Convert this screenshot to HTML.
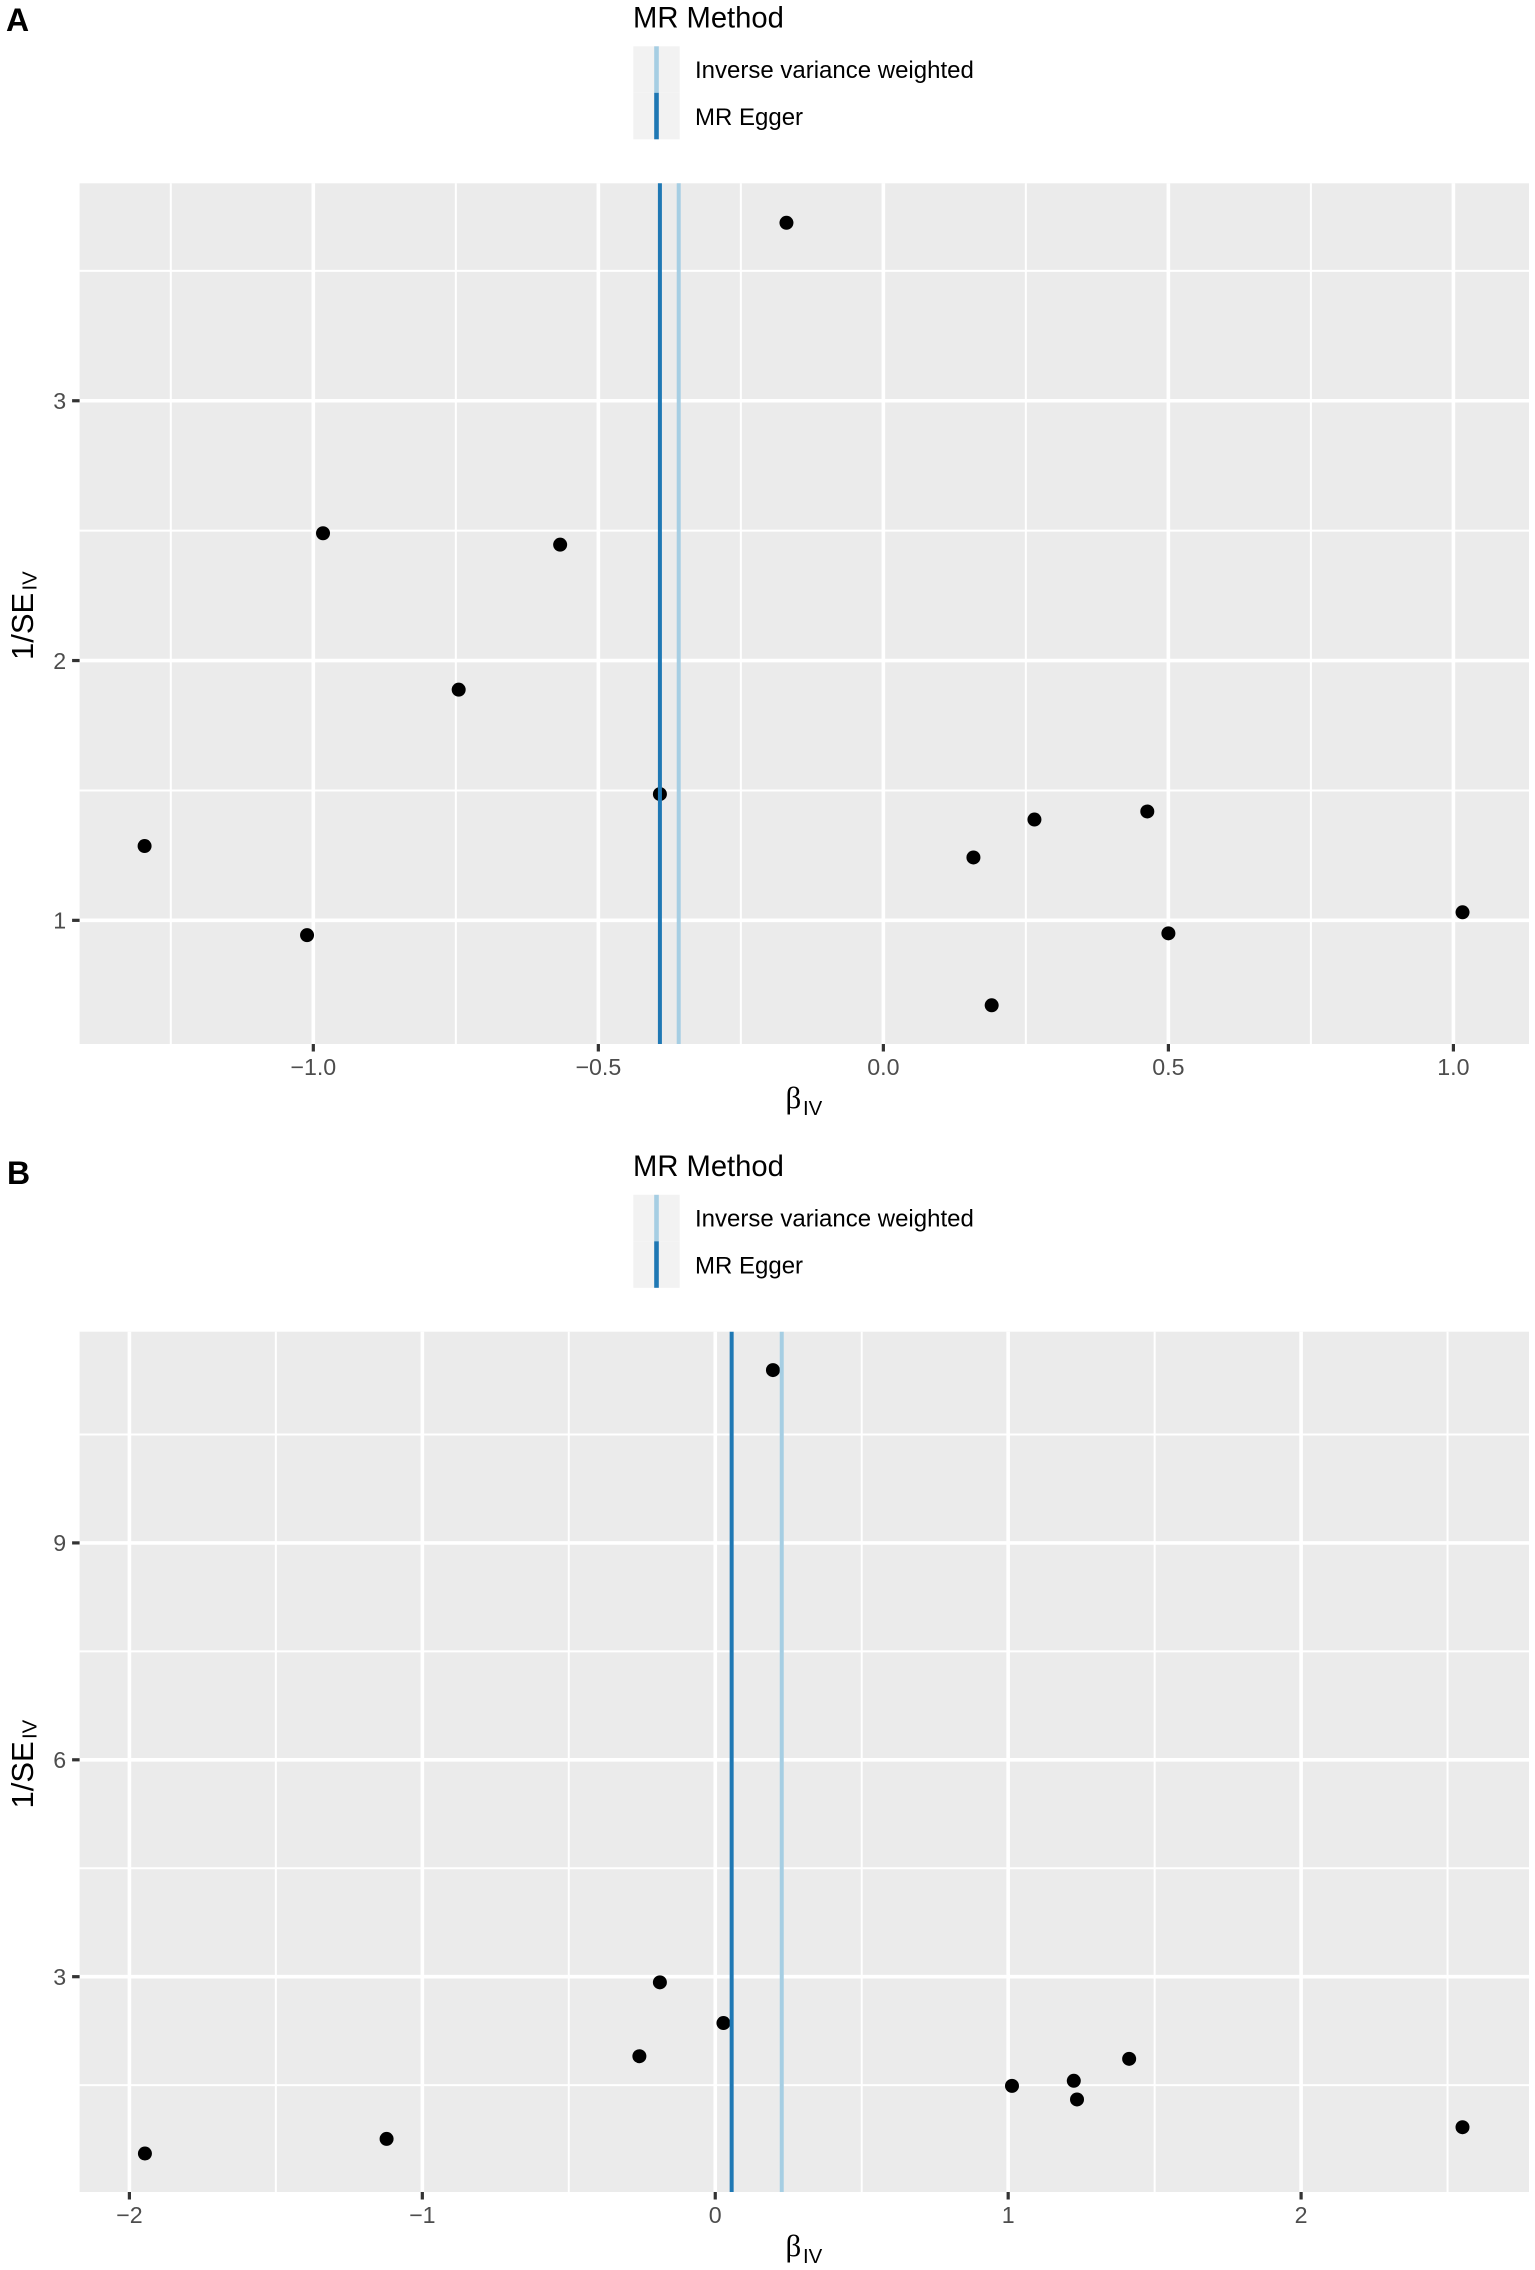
<!DOCTYPE html>
<html lang="en">
<head>
<meta charset="utf-8">
<title>MR funnel plots</title>
<style>
  html, body { margin: 0; padding: 0; background: #fff; }
  svg { display: block; font-family: "Liberation Sans", sans-serif; }
</style>
</head>
<body>
<svg id="figure" xmlns="http://www.w3.org/2000/svg" width="1535" height="2270" viewBox="0 0 1535 2270">
  <rect x="0" y="0" width="1535" height="2270" fill="#ffffff"/>

  <text x="6" y="31" font-size="32" font-weight="700" fill="#000">A</text>
  <g>
    <text x="633" y="27.5" font-size="29.2" fill="#000">MR Method</text>
    <rect x="633.3" y="46.3" width="46.4" height="46.5" fill="#f2f2f2"/>
    <rect x="633.3" y="92.8" width="46.4" height="46.5" fill="#f2f2f2"/>
    <rect x="654.2" y="46.3" width="4.6" height="46.5" fill="#a6cee3"/>
    <rect x="654.2" y="92.8" width="4.6" height="46.5" fill="#1f78b4"/>
    <text x="695" y="78" font-size="24" fill="#000">Inverse variance weighted</text>
    <text x="695" y="125" font-size="24" fill="#000">MR Egger</text>
  </g>

  <text x="7" y="1184" font-size="32" font-weight="700" fill="#000">B</text>
  <g transform="translate(0,1148.5)">
    <text x="633" y="27.5" font-size="29.2" fill="#000">MR Method</text>
    <rect x="633.3" y="46.3" width="46.4" height="46.5" fill="#f2f2f2"/>
    <rect x="633.3" y="92.8" width="46.4" height="46.5" fill="#f2f2f2"/>
    <rect x="654.2" y="46.3" width="4.6" height="46.5" fill="#a6cee3"/>
    <rect x="654.2" y="92.8" width="4.6" height="46.5" fill="#1f78b4"/>
    <text x="695" y="78" font-size="24" fill="#000">Inverse variance weighted</text>
    <text x="695" y="125" font-size="24" fill="#000">MR Egger</text>
  </g>
</svg>

<script>
// ---- Panel A data ----
const aBeta = [-1.296, -1.011, -0.983, -0.745, -0.567, -0.392, -0.170, 0.158, 0.190, 0.265, 0.463, 0.500, 1.016];
const aInvSE = [1.286, 0.943, 2.490, 1.888, 2.446, 1.486, 3.685, 1.242, 0.673, 1.388, 1.419, 0.950, 1.031];
const aXTicks = [-1.0, -0.5, 0.0, 0.5, 1.0];
const aXTickLabels = ["\u22121.0", "\u22120.5", "0.0", "0.5", "1.0"];
const aXMinor = [-1.25, -0.75, -0.25, 0.25, 0.75];
const aYTicks = [1, 2, 3];
const aYTickLabels = ["1", "2", "3"];
const aYMinor = [1.5, 2.5, 3.5];
const aEgger = -0.392;
const aIVW = -0.359;
const aXDomain = [-1.410, 1.1326];
const aYDomain = [0.524, 3.837];

// ---- Panel B data ----
const bBeta = [-1.947, -1.122, -0.259, -0.189, 0.028, 0.197, 1.013, 1.224, 1.235, 1.413, 2.551];
const bInvSE = [0.554, 0.756, 1.900, 2.922, 2.359, 11.39, 1.490, 1.560, 1.302, 1.864, 0.918];
const bXTicks = [-2, -1, 0, 1, 2];
const bXTickLabels = ["\u22122", "\u22121", "0", "1", "2"];
const bXMinor = [-1.5, -0.5, 0.5, 1.5, 2.5];
const bYTicks = [3, 6, 9];
const bYTickLabels = ["3", "6", "9"];
const bYMinor = [1.5, 4.5, 7.5, 10.5];
const bEgger = 0.056;
const bIVW = 0.227;
const bXDomain = [-2.170, 2.778];
const bYDomain = [0.022, 11.921];

const svg = document.getElementById('figure');
const NS = 'http://www.w3.org/2000/svg';

function mk(parent, tag, attrs, text) {
  const el = document.createElementNS(NS, tag);
  for (const k in attrs) el.setAttribute(k, attrs[k]);
  if (text !== undefined) el.textContent = text;
  parent.appendChild(el);
  return el;
}

function drawPanel(o) {
  const left = 79.6, right = 1529, top = o.top, bottom = o.bottom;
  const sx = v => left + (v - o.xDomain[0]) / (o.xDomain[1] - o.xDomain[0]) * (right - left);
  const sy = v => bottom - (v - o.yDomain[0]) / (o.yDomain[1] - o.yDomain[0]) * (bottom - top);

  const g = mk(svg, 'g', {});
  
  

  const bg = mk(g, 'rect', { x: left, y: top, width: right - left, height: bottom - top, fill: '#ebebeb' });
  
  

  o.yMinor.forEach(v => {
    const l = mk(g, 'line', { x1: left, x2: right, y1: sy(v), y2: sy(v), stroke: '#fff', 'stroke-width': 2 });
    
    
  });
  o.xMinor.forEach(v => {
    const l = mk(g, 'line', { x1: sx(v), x2: sx(v), y1: top, y2: bottom, stroke: '#fff', 'stroke-width': 2 });
    
    
  });
  o.yTicks.forEach((v, i) => {
    const l = mk(g, 'line', { x1: left, x2: right, y1: sy(v), y2: sy(v), stroke: '#fff', 'stroke-width': 3.6 });
    
    
    const t = mk(g, 'line', { x1: left - 7.5, x2: left, y1: sy(v), y2: sy(v), stroke: '#333', 'stroke-width': 3.2 });
    
    
    const lab = mk(g, 'text', { x: left - 13.5, y: sy(v) + 8.3, 'text-anchor': 'end', 'font-size': 23.2, fill: '#4d4d4d' }, o.yTickLabels[i]);
    
    
  });
  o.xTicks.forEach((v, i) => {
    const l = mk(g, 'line', { x1: sx(v), x2: sx(v), y1: top, y2: bottom, stroke: '#fff', 'stroke-width': 3.6 });
    
    
    const t = mk(g, 'line', { x1: sx(v), x2: sx(v), y1: bottom, y2: bottom + 7.5, stroke: '#333', 'stroke-width': 3.2 });
    
    
    const lab = mk(g, 'text', { x: sx(v), y: bottom + 31, 'text-anchor': 'middle', 'font-size': 23.2, fill: '#4d4d4d' }, o.xTickLabels[i]);
    
    
  });

  o.beta.forEach((v, i) => {
    const p = mk(g, 'circle', { cx: sx(v), cy: sy(o.invSE[i]), r: 7, fill: '#000' });
    
    
  });

  const eg = mk(g, 'line', { x1: sx(o.egger), x2: sx(o.egger), y1: top, y2: bottom, stroke: '#1f78b4', 'stroke-width': 4 });
  
  
  const iv = mk(g, 'line', { x1: sx(o.ivw), x2: sx(o.ivw), y1: top, y2: bottom, stroke: '#a6cee3', 'stroke-width': 4 });
  
  

  const xt = mk(g, 'g', {});
  
  
  mk(xt, 'text', { x: 785.5, y: bottom + 64, 'font-size': 31, 'font-family': '"Liberation Serif", serif', fill: '#000' }, '\u03B2');
  mk(xt, 'text', { x: 803, y: bottom + 71, 'font-size': 20.4, fill: '#000' }, 'IV');

  const yc = o.ylabelBase;
  const yt = mk(g, 'g', { transform: 'translate(33,' + yc + ') rotate(-90)' });
  
  
  mk(yt, 'text', { x: 0, y: 0, 'font-size': 31, fill: '#000' }, '1/SE');
  mk(yt, 'text', { x: 69.5, y: 3.7, 'font-size': 20.4, fill: '#000' }, 'IV');
}

drawPanel({
  prefix: 'panel-a', top: 183.3, bottom: 1044, xDomain: aXDomain, yDomain: aYDomain,
  beta: aBeta, invSE: aInvSE, xTicks: aXTicks, xTickLabels: aXTickLabels, xMinor: aXMinor,
  yTicks: aYTicks, yTickLabels: aYTickLabels, yMinor: aYMinor, egger: aEgger, ivw: aIVW, ylabelBase: 660
});
drawPanel({
  prefix: 'panel-b', top: 1331.7, bottom: 2192, xDomain: bXDomain, yDomain: bYDomain,
  beta: bBeta, invSE: bInvSE, xTicks: bXTicks, xTickLabels: bXTickLabels, xMinor: bXMinor,
  yTicks: bYTicks, yTickLabels: bYTickLabels, yMinor: bYMinor, egger: bEgger, ivw: bIVW, ylabelBase: 1808.5
});
</script>
</body>
</html>
